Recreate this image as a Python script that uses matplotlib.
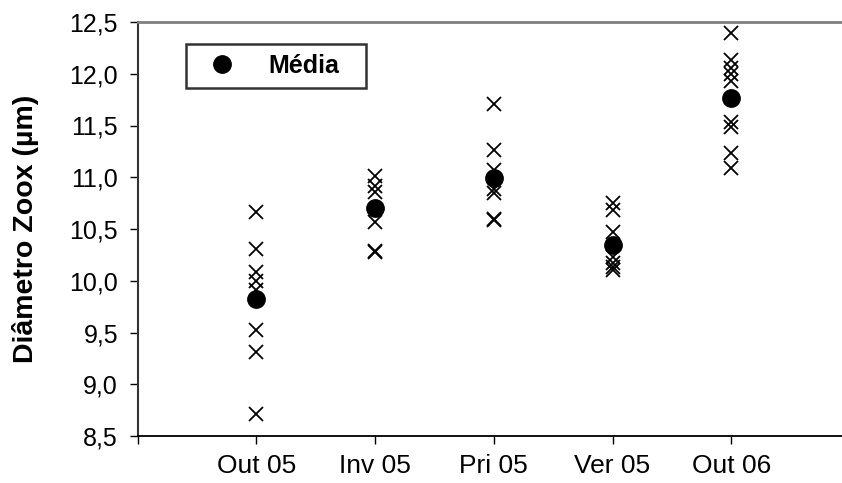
import matplotlib
matplotlib.use("Agg")
import matplotlib.pyplot as plt

plt.rcParams['font.family'] = ['Liberation Sans', 'DejaVu Sans']

categories = ["Out 05", "Inv 05", "Pri 05", "Ver 05", "Out 06"]
samples_out05 = [10.66, 10.31, 10.08, 10.00, 9.91, 9.52, 9.31, 8.71]
samples_inv05 = [11.01, 10.92, 10.86, 10.57, 10.29, 10.28]
samples_pri05 = [11.71, 11.26, 11.07, 10.89, 10.85, 10.60, 10.59]
samples_ver05 = [10.75, 10.68, 10.47, 10.23, 10.17, 10.13, 10.10]
samples_out06 = [12.39, 12.13, 12.06, 12.00, 11.93, 11.53, 11.49, 11.23, 11.09]
means = [9.82, 10.70, 10.99, 10.35, 11.77]
yticks = [8.5, 9.0, 9.5, 10.0, 10.5, 11.0, 11.5, 12.0, 12.5]

all_samples = [samples_out05, samples_inv05, samples_pri05, samples_ver05, samples_out06]

fig = plt.figure(figsize=(8.42, 4.83), dpi=100)
ax = fig.add_axes([137.5 / 842, 47 / 483, (850 - 137.5) / 842, 414 / 483])

for i, s in enumerate(all_samples):
    ax.plot([i + 1] * len(s), s, linestyle='none', marker='x', markersize=10.5,
            markeredgewidth=1.3, color='black', zorder=2)

ax.plot(range(1, len(means) + 1), means, linestyle='none', marker='o',
        markersize=12.5, color='black', label='Média', zorder=3)

ax.set_xlim(0, 6)
ax.set_ylim(8.5, 12.5)
ax.set_yticks(yticks)
ax.set_yticklabels([f"{v:.1f}".replace('.', ',') for v in yticks])
ax.set_xticks(range(0, 7))
ax.set_xticklabels([''] + categories + [''])
ax.tick_params(axis='both', length=6, width=1, direction='out', colors='black')
ax.tick_params(axis='y', pad=8, labelsize=18)
ax.tick_params(axis='x', pad=7, labelsize=19)

ax.spines['right'].set_visible(False)
ax.spines['top'].set_color('#808080')
ax.spines['top'].set_linewidth(2)
ax.spines['left'].set_color('#333333')
ax.spines['left'].set_linewidth(1.5)
ax.spines['bottom'].set_color('black')
ax.spines['bottom'].set_linewidth(1.3)

ax.set_ylabel('Diâmetro Zoox (µm)', fontsize=20.5, fontweight='bold', labelpad=22)

x0 = (186 - 137.5) / 712.5
y1 = (436 - 44) / 414
w = 180 / 712.5
h = 45 / 414
leg = ax.legend(loc='upper left', bbox_to_anchor=(x0, y1 - h, w, h), mode='expand',
                borderaxespad=0, borderpad=0.4, handlelength=2.1, handletextpad=0.8,
                frameon=True, fancybox=False, edgecolor='black',
                prop={'size': 18, 'weight': 'bold'})
leg.get_frame().set_linewidth(1.8)

fig.savefig('out.png', dpi=100)
